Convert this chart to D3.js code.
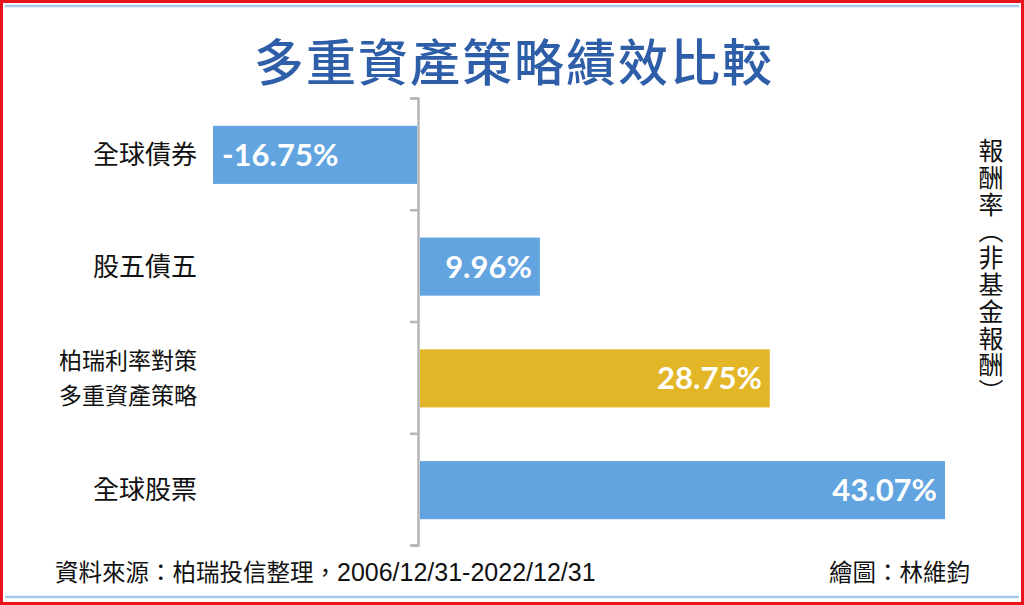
<!DOCTYPE html>
<html><head><meta charset="utf-8">
<script src="https://cdn.jsdelivr.net/npm/d3@7/dist/d3.min.js"></script>
<style>
html,body{margin:0;padding:0;background:#fff;}
svg{display:block;}
</style></head>
<body>
<svg id="c" width="1024" height="605"></svg>
<script>
const categories = ["全球債券", "股五債五", "柏瑞利率對策\n多重資產策略", "全球股票"];
const values = [-16.75, 9.96, 28.75, 43.07];
const valueLabels = ["-16.75%", "9.96%", "28.75%", "43.07%"];
const highlight = [false, false, true, false];
const title = "多重資產策略績效比較";
const yAxisTitle = "報酬率（非基金報酬）";
const sourceText = "資料來源：柏瑞投信整理，";
const sourceDates = "2006/12/31-2022/12/31";
const credit = "繪圖：林維鈞";

const svg = d3.select("#c");
const W = 1024, H = 605;
const cjk = "'Noto Sans CJK TC','Noto Sans CJK SC',sans-serif";

// frame
svg.append("rect").attr("x",1.5).attr("y",1.5).attr("width",W-3).attr("height",H-3)
  .attr("fill","none").attr("stroke","#e8141c").attr("stroke-width",3);
svg.append("line").attr("x1",5).attr("x2",W-5).attr("y1",6).attr("y2",6)
  .attr("stroke","#a9cbe8").attr("stroke-width",2.5);
svg.append("line").attr("x1",5).attr("x2",W-5).attr("y1",597).attr("y2",597)
  .attr("stroke","#a9cbe8").attr("stroke-width",2.5);

// title
svg.append("text").attr("x",514).attr("y",81).attr("text-anchor","middle")
  .attr("font-family",cjk).attr("font-weight",500).attr("font-size",50)
  .attr("fill","#2f5ea9").attr("letter-spacing",2).text(title);

const x = d3.scaleLinear().domain([0, 43.07]).range([418, 945]);
const y = d3.scaleBand().domain(categories).range([98, 545]).paddingInner(0.48).paddingOuter(0.24);

// bars
const g = svg.append("g");
categories.forEach((c,i)=>{
  const v = values[i];
  const x0 = v < 0 ? x(v) : x(0) + 2;
  const x1 = v < 0 ? x(0) - 1 : x(v);
  g.append("rect").attr("x",x0).attr("y",y(c)+1).attr("width",x1-x0).attr("height",y.bandwidth())
    .attr("fill", highlight[i] ? "#e2b627" : "#62a4df");
  const ty = y(c) + 1 + y.bandwidth()/2 + 11;
  g.append("text")
    .attr("x", v < 0 ? x0 + 9 : x1 - 8)
    .attr("y", ty)
    .attr("text-anchor", v < 0 ? "start" : "end")
    .attr("font-family","'Lato','Open Sans',sans-serif").attr("font-weight",700).attr("font-size",31)
    .attr("fill","#fff").text(valueLabels[i]);
});

// axis
const yAxisScale = d3.scaleLinear().domain([0,4]).range([98,545]);
const axis = d3.axisLeft(yAxisScale).tickValues([0,1,2,3,4]).tickSize(8).tickFormat("");
const ag = svg.append("g").attr("transform","translate(418,0)").call(axis);
ag.select(".domain").attr("stroke","#b5b5b5").attr("stroke-width",2.5);
ag.selectAll(".tick line").attr("stroke","#b5b5b5").attr("stroke-width",2.5);

// category labels
categories.forEach((c)=>{
  const lines = c.split("\n");
  const cy = y(c) + 1 + y.bandwidth()/2;
  const fs = lines.length > 1 ? 23 : 26;
  const lh = 35;
  const t = svg.append("text").attr("text-anchor","end")
    .attr("font-family",cjk).attr("font-size",fs).attr("fill","#111");
  lines.forEach((l,j)=>{
    t.append("tspan").attr("x",197)
      .attr("y", cy + fs*0.36 + (j - (lines.length-1)/2)*lh).text(l);
  });
});

// vertical axis title
svg.append("text").attr("x",991).attr("y",138)
  .style("writing-mode","vertical-rl").style("text-orientation","upright")
  .attr("font-family",cjk).attr("font-size",25).attr("fill","#111")
  .attr("letter-spacing",1.8).text(yAxisTitle);

// footer
const ft = svg.append("text").attr("x",55).attr("y",581).attr("font-family",cjk).attr("font-size",23.5)
  .attr("fill","#111");
ft.append("tspan").text(sourceText);
ft.append("tspan").attr("font-family","'Liberation Sans Narrow','Arial Narrow','Liberation Sans',sans-serif")
  .attr("font-size",25).text(sourceDates);
svg.append("text").attr("x",970).attr("y",581).attr("text-anchor","end").attr("font-family",cjk)
  .attr("font-size",23.5).attr("fill","#111").text(credit);
</script>
</body></html>
